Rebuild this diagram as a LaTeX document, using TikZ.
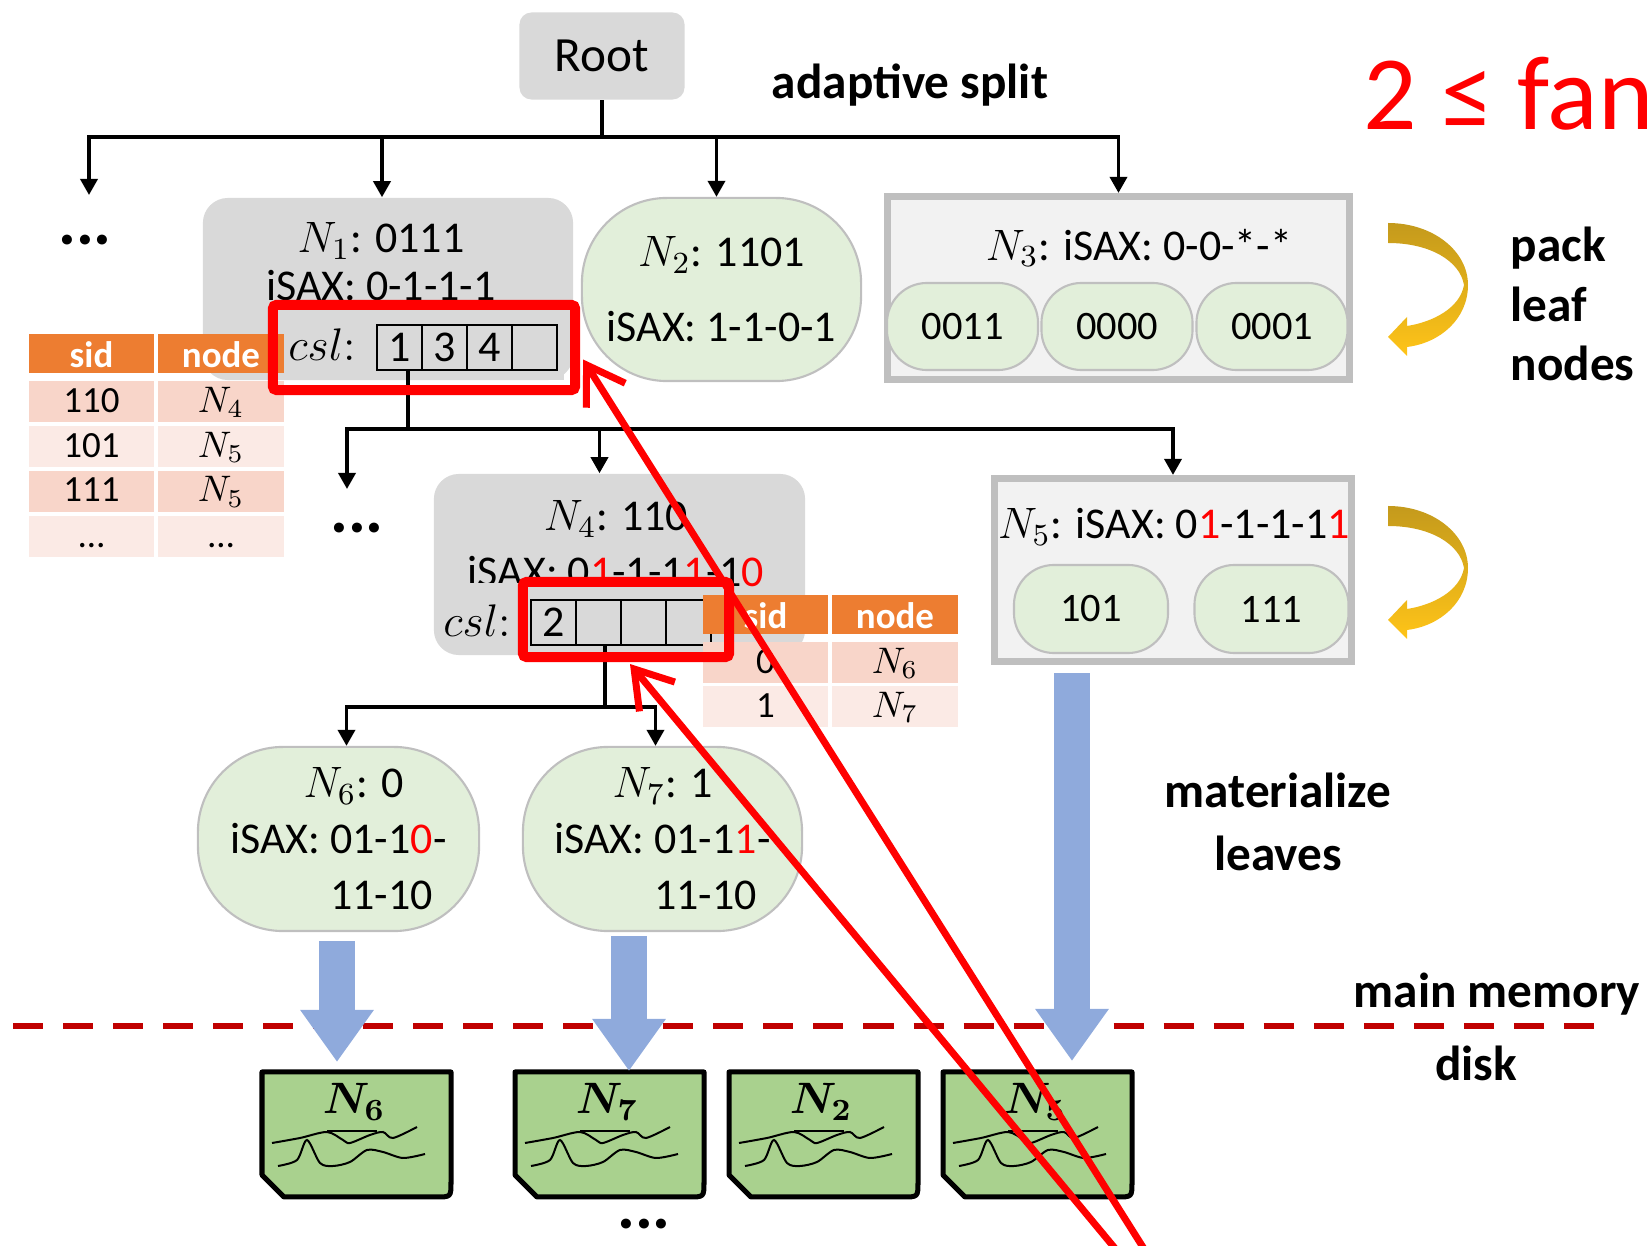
\RequirePackage{fix-cm}
\documentclass[tikz,border=0pt]{standalone}
\usepackage{fontspec}
\setmainfont{Carlito}
\usetikzlibrary{arrows.meta,calc}

\definecolor{boxgray}{HTML}{D9D9D9}
\definecolor{leafgreen}{HTML}{E2EFDA}
\definecolor{packgray}{HTML}{F2F2F2}
\definecolor{edgegray}{HTML}{BFBFBF}
\definecolor{sidorange}{HTML}{ED7D31}
\definecolor{rowdark}{HTML}{F8D5C9}
\definecolor{rowlight}{HTML}{FBEAE5}
\definecolor{flowblue}{HTML}{8FAADC}
\definecolor{diskgreen}{HTML}{A9D18E}
\definecolor{memred}{HTML}{C00000}
\definecolor{goldtop}{HTML}{C49A1C}
\definecolor{goldmid}{HTML}{E2B21C}
\definecolor{goldbot}{HTML}{FFC418}

\tikzset{
  leafdisk/.pic={
    \draw[fill=diskgreen, line width=0.05cm, line join=round] (0,0) -- (189,0) -- (189,110)
      .. controls (189,125) .. (174,125) -- (22,125) -- (0,103) -- cycle;
    \coordinate (-top) at (94.5,0);
    \node[font=\boldmath\fontsize{12.5}{15}\selectfont, inner sep=0pt] (-lbl) at (92,30) {$N_{#1}$};
    \draw[line width=0.02cm] plot[smooth] coordinates {(10,71) (38,66) (65,60) (81,68) (88,71) (108,63) (121,60) (131,66) (155,55)};
    \draw[line width=0.02cm] (65,59) -- (115,59);
    \draw[line width=0.02cm] plot[smooth] coordinates {(16,94) (35,88) (45,68) (58,91) (71,94) (88,90) (105,78) (121,80) (141,86) (163,82)};
  },
  packarrow/.pic={
    \shade[top color=goldtop, middle color=goldmid, bottom color=goldbot]
      (0,0) .. controls (45,0) and (80,28) .. (80,62) .. controls (80,96) and (52,120) .. (19,124)
      -- (19,133) -- (0,114) -- (19,94) -- (19,103)
      .. controls (45,99) and (72,85) .. (76,62) .. controls (72,38) and (42,20) .. (0,20) -- cycle;
  },
}

\begin{document}
\begin{tikzpicture}[x=0.01cm, y=-0.01cm,
  txt/.style={font=\fontsize{12.5}{15}\selectfont, inner sep=0pt},
  lbl/.style={font=\bfseries\fontsize{14}{17}\selectfont, inner sep=0pt},
  inner/.style={fill=boxgray, rounded corners=0.25cm},
  leaf/.style={fill=leafgreen, draw=edgegray, line width=0.6pt},
  pack/.style={fill=packgray, draw=edgegray, line width=0.07cm},
  cell/.style={draw, line width=0.8pt, fill=boxgray, minimum width=0.45cm, minimum height=0.45cm,
    inner sep=0pt, font=\fontsize{12.5}{15}\selectfont},
  head/.style={fill=sidorange, text=white, font=\bfseries\fontsize{10.5}{12}\selectfont,
    minimum width=1.25cm, minimum height=0.39cm, inner sep=0pt, text height=0.33cm, text depth=0.06cm},
  row/.style={font=\fontsize{10.5}{12}\selectfont, minimum width=1.25cm, minimum height=0.41cm,
    inner sep=0pt, text height=0.28cm, text depth=0.07cm},
  stem/.style={line width=1pt},
  tree/.style={line width=1pt, -{Triangle[length=0.16cm,width=0.17cm]}},
  flow/.style={flowblue, line width=0.35cm, -{Triangle[length=0.52cm,width=0.70cm]}},
  hilite/.style={draw=red, line width=0.1cm, rounded corners=1pt, inner sep=0pt},
  point/.style={red, line width=0.07cm, line cap=round, -{Straight Barb[length=0.36cm,width=0.46cm]}},
  dots/.style={font=\bfseries\fontsize{19}{22}\selectfont, inner sep=0pt},
]
\useasboundingbox (0,0) rectangle (1650,1246);

\node[inner, rounded corners=0.12cm, minimum width=1.65cm, minimum height=0.87cm,
  font=\fontsize{14}{17}\selectfont] (root) at (602,56) {Root};
\node[lbl] (split) at (910,85) {adaptive split};
\node[font=\fontsize{30}{36}\selectfont, text=red, anchor=base west, inner sep=0pt] (fan) at (1363,130) {2 ≤ fan};

% first level
\node[inner, minimum width=3.7cm, minimum height=1.82cm] (n1) at (388,289) {};
\node[txt, align=center, font=\fontsize{12.5}{13.6}\selectfont] (n1t) at (381,262) {$N_1$: 0111\\iSAX: 0-1-1-1};
\node[fill=boxgray, minimum width=2.88cm, minimum height=0.72cm, inner sep=0pt] (csl1) at (420,344) {};
\node[txt, font=\fontsize{13}{15}\selectfont] (csl1t) at (322,345) {$csl{:}$};
\foreach \v [count=\i] in {1,3,4,{}}
  \node[cell] (c1\i) at ({377+45*\i-22.5},347.5) {\v};

\node[head] (t1a) at (91.5,353.5) {sid};
\node[head, minimum width=1.26cm] (t1b) at (221,353.5) {node};
\foreach \s/\m/\c [count=\i] in {110/$N_4$/rowdark, 101/$N_5$/rowlight, 111/$N_5$/rowdark, \dots/\dots/rowlight} {
  \node[row, fill=\c] (t1s\i) at (91.5,{401.5+45*(\i-1)}) {\s};
  \node[row, fill=\c, minimum width=1.26cm] (t1n\i) at (221,{401.5+45*(\i-1)}) {\m};
}

\node[leaf, rounded corners=0.85cm, minimum width=2.79cm, minimum height=1.83cm, align=center,
  font=\fontsize{12.5}{21.3}\selectfont] (n2) at (721.5,289.5) {$N_2$: 1101\\iSAX: 1-1-0-1};

\node[pack, minimum width=4.62cm, minimum height=1.83cm] (n3) at (1118.5,288) {};
\node[txt] (n3t) at (1139,248) {$N_3$: iSAX: 0-0-*-*};
\foreach \v/\x in {0011/962.5, 0000/1117, 0001/1272}
  \node[leaf, rounded corners=0.4cm, minimum width=1.51cm, minimum height=0.87cm,
    font=\fontsize{11.5}{14}\selectfont] (b\v) at (\x,326.5) {\v};

\pic at (1388,223) {packarrow};
\node[lbl, align=left, anchor=north west] (packt) at (1510,226) {pack\\leaf\\nodes};

\node[dots] (dots1) at (85,240) {...};
\coordinate (e1) at (89,195);
\coordinate (b1) at (602,137);
\draw[stem] (root.south) -- (b1);
\draw[tree] (b1) -| (e1);
\draw[tree] (b1) -| ($(n1.north)+(-6,0)$);
\draw[tree] (b1) -| ($(n2.north)+(-5,0)$);
\draw[tree] (b1) -| (n3.north);

% second level
\node[inner, minimum width=3.71cm, minimum height=1.81cm] (n4) at (619.5,564.5) {};
\node[txt, align=center, font=\fontsize{12.5}{15.9}\selectfont] (n4t) at (616,544)
  {$N_4$: 110\\iSAX: 0\textcolor{red}{1}-1-1\textcolor{red}{1}-1\textcolor{red}{0}};
\node[fill=boxgray, minimum width=2.62cm, minimum height=0.65cm, inner sep=0pt] (csl2) at (581,615.5) {};
\node[txt, font=\fontsize{13}{15}\selectfont] (csl2t) at (477,621) {$csl{:}$};
\foreach \v [count=\i] in {2,{},{},{}}
  \node[cell] (c2\i) at ({531+45*\i-22.5},622.5) {\v};

\node[head] (t2a) at (765.5,614.5) {sid};
\node[head, minimum width=1.26cm] (t2b) at (895,614.5) {node};
\foreach \s/\m/\c [count=\i] in {0/$N_6$/rowdark, 1/$N_7$/rowlight} {
  \node[row, fill=\c] (t2s\i) at (765.5,{662.5+44*(\i-1)}) {\s};
  \node[row, fill=\c, minimum width=1.26cm] (t2n\i) at (895,{662.5+44*(\i-1)}) {\m};
}

\node[pack, minimum width=3.57cm, minimum height=1.83cm] (n5) at (1173,570) {};
\node[txt] (n5t) at (1174,527) {$N_5$: iSAX: 0\textcolor{red}{1}-1-1-1\textcolor{red}{1}};
\foreach \v/\x in {101/1091, 111/1271.5}
  \node[leaf, rounded corners=0.4cm, minimum width=1.54cm, minimum height=0.88cm,
    font=\fontsize{11.5}{14}\selectfont] (b\v) at (\x,609) {\v};

\pic at (1388,506) {packarrow};

\node[dots] (dots2) at (357,528) {...};
\coordinate (e2) at (347,489);
\coordinate (b2) at (408,429);
\draw[stem] (b2 |- c11.south) -- (b2);
\draw[tree] (b2) -| (e2);
\draw[tree] (b2) -| ($(n4.north)+(-20,0)$);
\draw[tree] (b2) -| (n5.north);

% third level
\node[leaf, rounded corners=0.85cm, minimum width=2.81cm, minimum height=1.84cm, align=center,
  font=\fontsize{12.5}{15.9}\selectfont] (n6) at (338.5,839)
  {\hspace*{0.3cm}$N_6$: 0\\iSAX: 01-1\textcolor{red}{0}-\\\hspace*{0.86cm}11-10};
\node[leaf, rounded corners=0.85cm, minimum width=2.79cm, minimum height=1.84cm, align=center,
  font=\fontsize{12.5}{15.9}\selectfont] (n7) at (662.5,839)
  {$N_7$: 1\\iSAX: 01-1\textcolor{red}{1}-\\\hspace*{0.86cm}11-10};

\coordinate (b3) at (605,707);
\draw[stem] (b3 |- c22.south) -- (b3);
\draw[tree] (b3) -| ($(n6.north)+(8,0)$);
\draw[tree] (b3) -| ($(n7.north)+(-7,0)$);

\node[lbl, align=center, font=\bfseries\fontsize{14}{17.9}\selectfont] (mat) at (1278,822) {materialize\\leaves};

% memory / disk boundary
\draw[memred, line width=0.065cm, dash pattern=on 0.3cm off 0.2cm] (13,1026) -- (1594,1026);
\node[lbl, anchor=base] (mem) at (1497,1008) {main memory};
\node[lbl, anchor=base] (disk) at (1476,1081) {disk};

\pic (d6) at (262,1072) {leafdisk=6};
\pic (d7) at (515,1072) {leafdisk=7};
\pic (d2) at (729,1072) {leafdisk=2};
\pic (d5) at (943,1072) {leafdisk=5};
\node[dots] (dots3) at (644,1224) {...};

\draw[flow] ($(n6.south)+(-1.5,9)$) -- ($(d6-top)+(-19.5,-10)$);
\draw[flow] ($(n7.south)+(-33.5,4)$) -- ($(d7-top)+(19.5,-1)$);
\draw[flow] ($(n5.south)+(-101,8)$) -- ($(d5-top)+(34.5,-11)$);

% highlights
\node[hilite, minimum width=3.02cm, minimum height=0.85cm] (hl1) at (424,347.5) {};
\node[hilite, minimum width=2.06cm, minimum height=0.75cm] (hl2) at (626,619.5) {};
\coordinate (pa) at (1146,1252);
\coordinate (pb) at (1118,1252);
\draw[point] (pa) -- ($(hl1.east)+(3,12)$);
\draw[point] (pb) -- ($(hl2.south)+(4,2)$);
\end{tikzpicture}
\end{document}
